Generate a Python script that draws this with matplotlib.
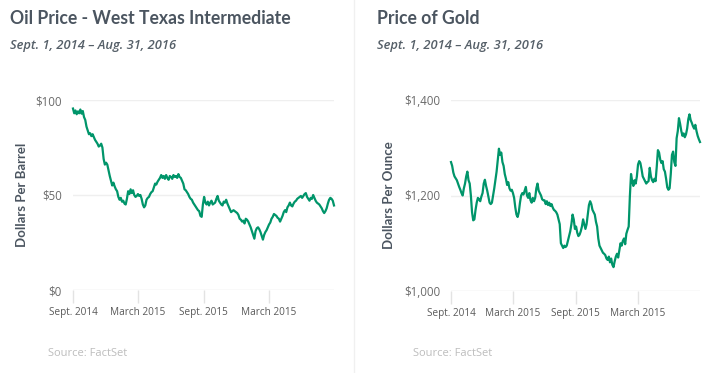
import matplotlib
matplotlib.use('Agg')
import matplotlib.pyplot as plt
import pandas as pd

# ---------------------------------- data ---------------- #
start, end = '2014-09-01', '2016-08-31'

oil = [
    95.5, 93.0, 94.5, 92.5, 94.0, 93.0, 95.0, 92.8, 94.2,   # Sep 2014
    91.0, 89.5, 86.0, 84.0, 82.0, 82.5, 81.0, 82.0, 80.5,   # Oct
    79.0, 78.0, 77.0, 75.5, 76.0, 77.0, 75.0, 69.0, 66.0,   # Nov
    67.0, 66.0, 63.0, 60.0, 57.5, 55.0, 56.5, 54.5, 53.0,   # Dec
    52.0, 49.0, 47.5, 48.5, 46.5, 47.0, 45.5, 45.0, 48.0,   # Jan 2015
    52.0, 50.5, 53.0, 51.0, 52.5, 50.0, 49.0, 49.5,         # Feb
    50.5, 49.5, 50.0, 48.0, 45.0, 43.5, 44.5, 47.5, 48.5,   # Mar
    49.0, 50.5, 51.5, 52.0, 54.0, 56.0, 55.5, 57.0, 58.0,   # Apr
    59.0, 60.5, 59.0, 60.0, 58.5, 60.5, 59.0, 58.0, 60.0,   # May
    59.5, 58.5, 60.5, 59.5, 60.0, 59.0, 61.0, 59.5, 59.0,   # Jun
    57.5, 56.0, 53.0, 52.5, 51.5, 50.5, 49.0, 48.0, 47.5,   # Jul
    46.0, 45.0, 44.0, 43.0, 42.0, 41.5, 39.0, 38.5, 45.0,   # Aug
    49.0, 46.0, 45.0, 46.5, 44.5, 46.0, 47.0, 45.0, 45.5,   # Sep
    46.0, 48.0, 49.5, 47.0, 46.0, 45.0, 44.5, 46.5, 46.0,   # Oct
    47.5, 45.5, 44.0, 42.5, 41.0, 41.5, 42.0, 41.5, 41.0,   # Nov
    40.5, 39.5, 37.5, 37.0, 36.0, 36.5, 35.0, 37.5, 37.0,   # Dec
    36.0, 34.5, 33.0, 31.0, 29.0, 27.0, 31.0, 32.5, 33.0,   # Jan 2016
    32.0, 30.5, 28.5, 26.5, 29.0, 30.5, 31.5, 33.0,         # Feb
    34.5, 35.5, 37.5, 38.5, 40.0, 39.5, 39.0, 38.0, 37.5,   # Mar
    36.0, 37.5, 39.0, 41.0, 42.0, 41.0, 43.5, 44.5, 46.0,   # Apr
    44.5, 44.0, 45.5, 46.5, 47.0, 48.0, 48.5, 49.0, 49.5,   # May
    48.5, 49.5, 50.5, 51.0, 49.0, 48.0, 47.0, 48.5, 48.0,   # Jun
    50.0, 48.5, 47.0, 46.0, 45.5, 45.0, 44.0, 43.0, 41.5,   # Jul
    40.5, 41.5, 43.0, 45.5, 47.5, 48.5, 48.0, 47.0, 44.5,   # Aug
]

gold = [
    1270, 1262, 1248, 1240, 1236, 1232, 1225, 1218, 1212,   # Sep 2014
    1205, 1200, 1215, 1225, 1240, 1250, 1232, 1225, 1200,   # Oct
    1165, 1148, 1150, 1170, 1185, 1195, 1192, 1188, 1198,   # Nov
    1205, 1225, 1233, 1220, 1210, 1198, 1185, 1182, 1185,   # Dec
    1200, 1215, 1232, 1250, 1275, 1298, 1285, 1290, 1270,   # Jan 2015
    1262, 1245, 1235, 1222, 1228, 1215, 1210, 1212,         # Feb
    1205, 1195, 1175, 1160, 1155, 1165, 1185, 1200, 1205,   # Mar
    1202, 1210, 1218, 1200, 1195, 1205, 1190, 1185, 1195,   # Apr
    1188, 1195, 1215, 1225, 1210, 1205, 1200, 1192, 1190,   # May
    1190, 1182, 1188, 1180, 1185, 1178, 1182, 1175, 1170,   # Jun
    1168, 1165, 1160, 1150, 1140, 1100, 1095, 1090, 1095,   # Jul
    1092, 1095, 1105, 1115, 1125, 1140, 1160, 1150, 1130,   # Aug
    1135, 1122, 1115, 1118, 1125, 1135, 1150, 1140, 1130,   # Sep
    1140, 1160, 1180, 1188, 1182, 1170, 1165, 1160, 1145,   # Oct
    1135, 1110, 1095, 1090, 1085, 1080, 1078, 1075, 1068,   # Nov
    1065, 1072, 1060, 1068, 1055, 1050, 1062, 1072, 1078,   # Dec
    1070, 1085, 1100, 1095, 1105, 1110, 1098, 1120, 1128,   # Jan 2016
    1135, 1198, 1245, 1230, 1220, 1232, 1225, 1240,         # Feb
    1265, 1272, 1268, 1255, 1240, 1235, 1230, 1225, 1228,   # Mar
    1230, 1258, 1240, 1232, 1228, 1235, 1230, 1260, 1295,   # Apr
    1290, 1275, 1268, 1272, 1255, 1250, 1235, 1217, 1212,   # May
    1215, 1245, 1285, 1292, 1270, 1262, 1320, 1335, 1362,   # Jun
    1350, 1335, 1325, 1330, 1322, 1328, 1340, 1360, 1370,   # Jul
    1358, 1352, 1345, 1340, 1348, 1335, 1325, 1318, 1312,   # Aug
]

tick_dates = ['2014-09-01', '2015-03-01', '2015-09-01', '2016-03-01']
tick_labels = ['Sept. 2014', 'March 2015', 'Sept. 2015', 'March 2015']

oil_ticks = [0, 50, 100]
oil_tick_labels = ['$0', '$50', '$100']
gold_ticks = [1000, 1200, 1400]
gold_tick_labels = ['$1,000', '$1,200', '$1,400']

# ---------------------------------- styling ---------------- #
GREEN = '#00956a'
TITLE = '#4b5560'
W, H = 708, 373

fig = plt.figure(figsize=(W / 100, H / 100), dpi=100)


def px(x, y):
    return x / W, 1 - y / H


def panel(rect, dates, values, ticks, tlabels, ylabel, title, tx, ylx, srcx):
    ax = fig.add_axes(rect)
    ax.plot(dates, values, color=GREEN, lw=1.6, clip_on=False, solid_joinstyle='round')
    ax.set_xlim(pd.Timestamp(start), pd.Timestamp(end))
    ax.set_ylim(ticks[0], ticks[-1])
    for s in ax.spines.values():
        s.set_visible(False)
    for t in ticks[1:]:
        ax.axhline(t, color='#efefef', lw=1, zorder=0)
    ax.axhline(ticks[0], color='#e3e3e3', lw=1, zorder=0)
    ax.set_yticks(ticks)
    ax.set_yticklabels(tlabels, family='Open Sans', fontsize=8.3, color='#6a6a6a')
    ax.tick_params(axis='y', length=0, pad=8)
    ax.set_xticks(pd.to_datetime(tick_dates))
    ax.set_xticklabels(tick_labels, family='Open Sans', fontsize=7.2, color='#5a5a5a')
    ax.tick_params(axis='x', length=9, width=1, color='#e3e3e3', pad=3)
    fig.text(*px(ylx, 195), ylabel, rotation=90, ha='center', va='center',
             family='Lato', fontweight='bold', fontsize=9.5, color=TITLE)
    fig.text(*px(tx, 18), title, ha='left', va='center',
             family='Lato', fontweight='bold', fontsize=12.7, color=TITLE)
    fig.text(*px(tx, 46), 'Sept. 1, 2014 \u2013 Aug. 31, 2016', ha='left', va='center',
             family='Open Sans', style='italic', fontweight='semibold', fontsize=9.3,
             color='#555f68')
    fig.text(*px(srcx, 353), 'Source: FactSet', ha='left', va='center',
             family='Open Sans', fontsize=8, color='#bdbdbd')
    return ax


oil_dates = pd.date_range(start, end, periods=len(oil))
gold_dates = pd.date_range(start, end, periods=len(gold))

l0, b0 = 73 / W, 1 - 290 / H
panel([l0, b0, (334 - 73) / W, 190 / H], oil_dates, oil, oil_ticks, oil_tick_labels,
      'Dollars Per Barrel', 'Oil Price - West Texas Intermediate', 10, 22, 48)

l1, b1 = 451 / W, 1 - 291 / H
panel([l1, b1, (700 - 451) / W, 191 / H], gold_dates, gold, gold_ticks, gold_tick_labels,
      'Dollars Per Ounce', 'Price of Gold', 377, 389, 413)

# faint separator between the two panels
fig.add_artist(plt.Line2D([354 / W, 354 / W], [0, 1], color='#f0f0f0', lw=1))

fig.savefig('out.png', dpi=100, facecolor='white')
